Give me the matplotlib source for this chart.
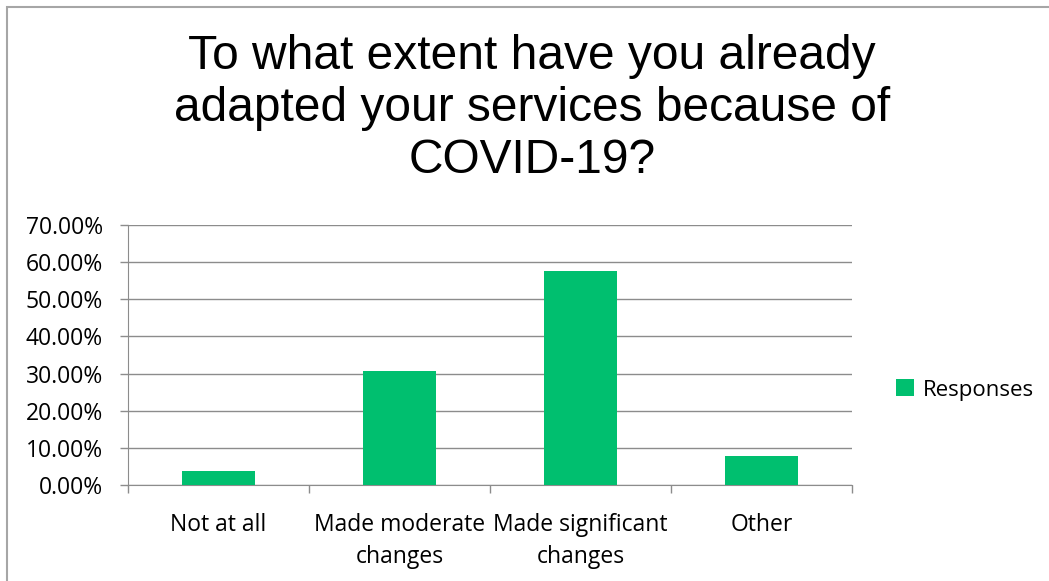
import matplotlib.pyplot as plt
from matplotlib.patches import Rectangle
import numpy as np

# data
categories = ['Not at all', 'Made moderate\nchanges', 'Made significant\nchanges', 'Other']
responses = [3.85, 30.77, 57.69, 7.69]
yticks = [0, 10, 20, 30, 40, 50, 60, 70]
ytick_labels = ['%.2f%%' % t for t in yticks]

W, H = 1049, 581
fig = plt.figure(figsize=(W / 100, H / 100), dpi=100)
ax = fig.add_axes([128 / W, 1 - 485 / H, (852 - 128) / W, (485 - 225) / H])

grey = '#8c8c8c'
x = np.arange(len(categories))
ax.bar(x, responses, width=0.4, color='#00bf6f', label='Responses', zorder=3)

ax.set_xlim(-0.5, len(categories) - 0.5)
ax.set_ylim(0, 70)
ax.set_yticks(yticks)
ax.set_yticklabels(ytick_labels, fontsize=16.5, fontfamily='Open Sans')
ax.grid(axis='y', color=grey, linewidth=1, zorder=0)

# category labels centred, tick marks between categories
ax.set_xticks(x)
ax.set_xticklabels(categories, fontsize=16.5, fontfamily='Open Sans', linespacing=1.45)
ax.tick_params(axis='x', length=0, pad=20)
ax.set_xticks(np.arange(len(categories) + 1) - 0.5, minor=True)
ax.tick_params(axis='x', which='minor', length=6, color=grey, width=1)
ax.tick_params(axis='y', length=6, color=grey, width=1, pad=12)

for s in ['top', 'right']:
    ax.spines[s].set_visible(False)
ax.spines['left'].set_color(grey)
ax.spines['bottom'].set_color(grey)

fig.text(0.507, 1 - 34 / H,
         'To what extent have you already\nadapted your services because of\nCOVID-19?',
         ha='center', va='top', fontsize=34.5, fontfamily='Liberation Sans', linespacing=1.2)

fig.legend(loc='center left', bbox_to_anchor=(876 / W, 1 - 390 / H), frameon=False,
           prop={'family': 'Open Sans', 'size': 16}, handlelength=0.8, handleheight=0.8,
           handletextpad=0.4)

# chart border (left and top edges visible)
fig.patches.append(Rectangle((7 / W, -0.1), 1.2, 1 - 7 / H + 0.1, transform=fig.transFigure,
                             fill=False, edgecolor='#a6a6a6', linewidth=1.5))

fig.savefig('out.png', dpi=100)
